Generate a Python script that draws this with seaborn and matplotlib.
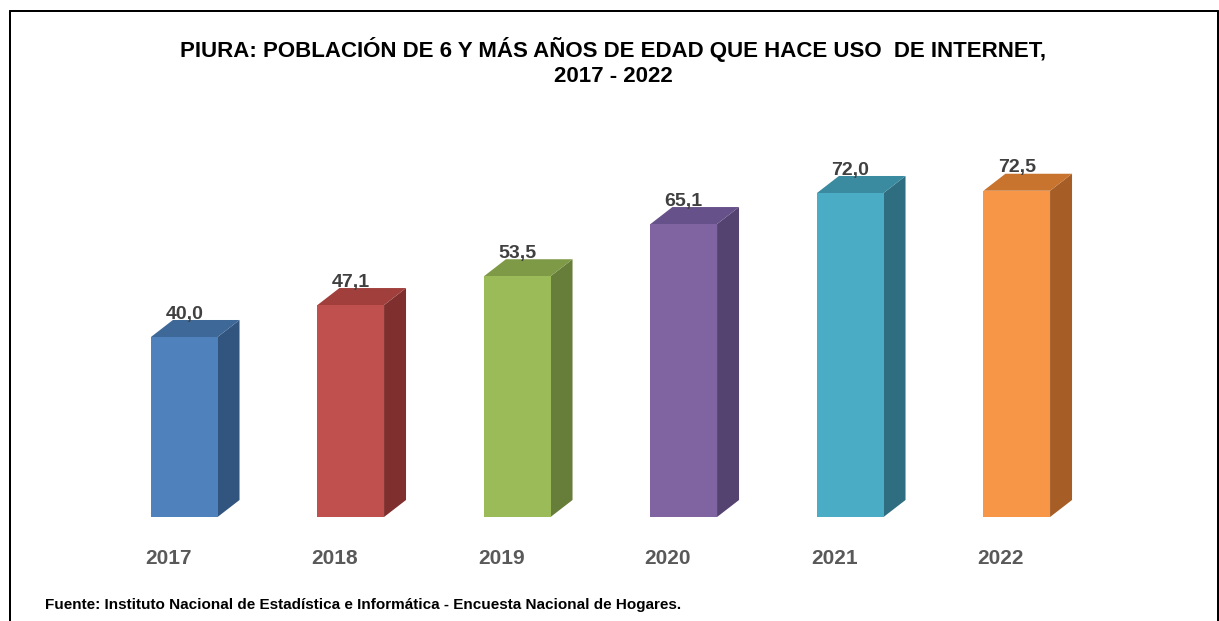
import matplotlib
matplotlib.use("Agg")
import matplotlib.pyplot as plt
import matplotlib.transforms as mtransforms
from matplotlib.patches import Polygon
from matplotlib.lines import Line2D
from matplotlib import font_manager
import seaborn as sns
import pandas as pd

years = ["2017", "2018", "2019", "2020", "2021", "2022"]
values = [40.0, 47.1, 53.5, 65.1, 72.0, 72.5]
front_colors = ["#4F81BD", "#C0504D", "#9BBB59", "#8064A2", "#4BACC6", "#F79646"]
side_colors = ["#32557F", "#7F302E", "#677D3A", "#544270", "#2F6E80", "#A65E26"]
top_colors = ["#3E6898", "#A03F3C", "#7E9A46", "#66518A", "#3A8AA0", "#C8742F"]
title = "PIURA: POBLACIÓN DE 6 Y MÁS AÑOS DE EDAD QUE HACE USO  DE INTERNET,\n2017 - 2022"
source = "Fuente: Instituto Nacional de Estadística e Informática - Encuesta Nacional de Hogares."

sns.set_theme(style="white")
names = {f.name for f in font_manager.fontManager.ttflist}
fam = "Liberation Sans Narrow" if "Liberation Sans Narrow" in names else "Liberation Sans"
plt.rcParams["font.family"] = [fam, "DejaVu Sans"]

W, H = 1219, 621
fig = plt.figure(figsize=(W / 100, H / 100), dpi=100)
fig.patch.set_facecolor("white")
ax = fig.add_axes([101 / W, (H - 517) / H, 999 / W, 405 / H])

df = pd.DataFrame({"year": years, "value": values})
sns.barplot(data=df, x="year", y="value", hue="year", palette=front_colors,
            width=0.40, legend=False, ax=ax, saturation=1, zorder=3,
            linewidth=0, edgecolor="none")
ax.set_ylim(0, 90)
ax.set_xlim(-0.5, 5.5)

dx = 0.132
dy = 3.78
for i, p in enumerate(ax.patches):
    x0 = p.get_x()
    w = p.get_width()
    h = p.get_height()
    x1 = x0 + w
    side = Polygon([[x1, 0], [x1 + dx, dy], [x1 + dx, h + dy], [x1, h]],
                   closed=True, facecolor=side_colors[i], edgecolor="none", zorder=2)
    top = Polygon([[x0, h], [x0 + dx, h + dy], [x1 + dx, h + dy], [x1, h]],
                  closed=True, facecolor=top_colors[i], edgecolor="none", zorder=2)
    ax.add_patch(side)
    ax.add_patch(top)
    ax.annotate(f"{values[i]:.1f}".replace(".", ","), (x0 + w / 2, h),
                xytext=(0, 16.5), textcoords="offset points", ha="center", va="center",
                fontsize=14, fontweight="bold", color="#404040", zorder=5)

for s in ax.spines.values():
    s.set_visible(False)
ax.set_yticks([])
ax.set_xlabel("")
ax.set_ylabel("")
ax.tick_params(axis="x", length=0, pad=23)
ax.set_xticks(range(len(years)))
ax.set_xticklabels(years, fontsize=15, fontweight="bold", color="#595959")
offset = mtransforms.ScaledTranslation(-16 / 100, 0, fig.dpi_scale_trans)
for lbl in ax.get_xticklabels():
    lbl.set_transform(lbl.get_transform() + offset)

fig.text(613 / W, 1 - 62 / H, title, ha="center", va="center", fontsize=16,
         fontweight="bold", color="black", linespacing=1.3)
fig.text(45 / W, 1 - 605 / H, source, ha="left", va="center", fontsize=11,
         fontweight="bold", color="black")

lw = 2.0 * 0.72
fig.add_artist(Line2D([9.5 / W, 9.5 / W], [0, 1 - 10.5 / H], transform=fig.transFigure,
                      color="black", lw=lw))
fig.add_artist(Line2D([9.5 / W, 1217.5 / W], [1 - 10.5 / H, 1 - 10.5 / H],
                      transform=fig.transFigure, color="black", lw=lw))
fig.add_artist(Line2D([1217.5 / W, 1217.5 / W], [0, 1 - 10.5 / H], transform=fig.transFigure,
                      color="black", lw=lw))

fig.savefig("out.png", dpi=100)
